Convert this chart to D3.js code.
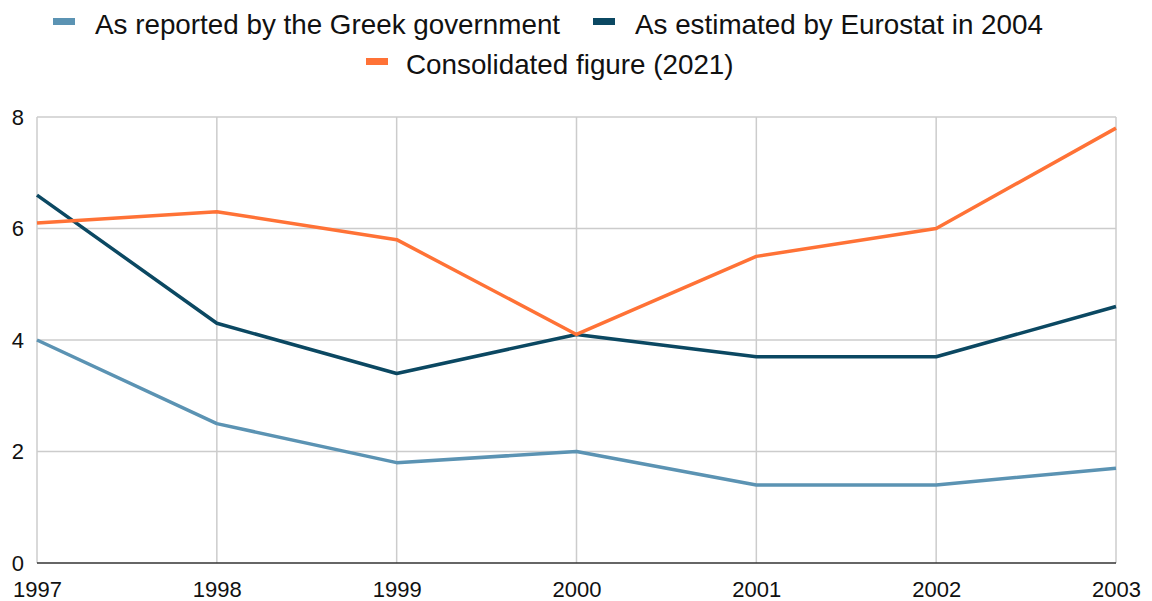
<!DOCTYPE html>
<html>
<head>
<meta charset="utf-8">
<script src="https://cdn.jsdelivr.net/npm/d3@7"></script>
<style>
  html, body { margin: 0; padding: 0; background: #fff; }
  svg { display: block; font-family: "Liberation Sans", Arial, sans-serif; }
</style>
</head>
<body>
<svg id="chart" width="1152" height="601"></svg>
<script>
// Greek government deficit (% of GDP), 1997–2003
const years = [1997, 1998, 1999, 2000, 2001, 2002, 2003];
const reportedByGreece = [4.0, 2.5, 1.8, 2.0, 1.4, 1.4, 1.7];
const eurostat2004 = [6.6, 4.3, 3.4, 4.1, 3.7, 3.7, 4.6];
const consolidated2021 = [6.1, 6.3, 5.8, 4.1, 5.5, 6.0, 7.8];
const yTicks = [0, 2, 4, 6, 8];

const series = [
  { name: "As reported by the Greek government", values: reportedByGreece, color: "#5b93b3" },
  { name: "As estimated by Eurostat in 2004", values: eurostat2004, color: "#0b4862" },
  { name: "Consolidated figure (2021)", values: consolidated2021, color: "#ff7236" }
];

const svg = d3.select("#chart");
const margin = { left: 37, right: 36, top: 117, bottom: 38 };
const W = 1152, H = 601;

const x = d3.scalePoint().domain(years).range([margin.left, W - margin.right]);
const y = d3.scaleLinear().domain([0, 8]).range([H - margin.bottom, margin.top]);

// grid
const grid = svg.append("g");
grid.selectAll("line.h").data(yTicks.filter(d => d > 0)).join("line")
  .attr("x1", margin.left).attr("x2", W - margin.right)
  .attr("y1", d => y(d)).attr("y2", d => y(d))
  .attr("stroke", "#cccccc").attr("stroke-width", 1.5);
grid.selectAll("line.v").data(years).join("line")
  .attr("x1", d => x(d)).attr("x2", d => x(d))
  .attr("y1", margin.top).attr("y2", y(0))
  .attr("stroke", "#cccccc").attr("stroke-width", 1.5);

// baseline
svg.append("line")
  .attr("x1", margin.left).attr("x2", W - margin.right)
  .attr("y1", y(0)).attr("y2", y(0))
  .attr("stroke", "#333333").attr("stroke-width", 1.5);

// y labels
const yAxis = d3.axisLeft(y).tickValues(yTicks).tickSize(0).tickPadding(13);
const gy = svg.append("g").attr("transform", `translate(${margin.left},0)`).call(yAxis);
gy.select(".domain").remove();
gy.selectAll("text").attr("font-size", 22).attr("fill", "#111").attr("font-family", "Liberation Sans, Arial, sans-serif");

// x labels
const xAxis = d3.axisBottom(x).tickSize(0).tickPadding(18).tickFormat(d3.format("d"));
const gx = svg.append("g").attr("transform", `translate(0,${y(0)})`).call(xAxis);
gx.select(".domain").remove();
gx.selectAll("text").attr("font-size", 22).attr("fill", "#111").attr("font-family", "Liberation Sans, Arial, sans-serif");

// lines
const line = d3.line().x((d, i) => x(years[i])).y(d => y(d));
svg.append("g").selectAll("path").data(series).join("path")
  .attr("d", s => line(s.values))
  .attr("fill", "none")
  .attr("stroke", s => s.color)
  .attr("stroke-width", 3.5)
  .attr("stroke-linejoin", "round");

// legend
const legendRows = [
  [{ s: series[0], sx: 53, tx: 95 }, { s: series[1], sx: 593, tx: 635 }],
  [{ s: series[2], sx: 366, tx: 406 }]
];
const rowBaseline = [33.5, 73.5];
legendRows.forEach((row, ri) => {
  row.forEach(item => {
    svg.append("rect")
      .attr("x", item.sx).attr("y", rowBaseline[ri] - 15.5)
      .attr("width", 22).attr("height", 7)
      .attr("fill", item.s.color);
    svg.append("text")
      .attr("x", item.tx).attr("y", rowBaseline[ri])
      .attr("font-size", 27.8)
      .attr("fill", "#111")
      .text(item.s.name);
  });
});
</script>
</body>
</html>
